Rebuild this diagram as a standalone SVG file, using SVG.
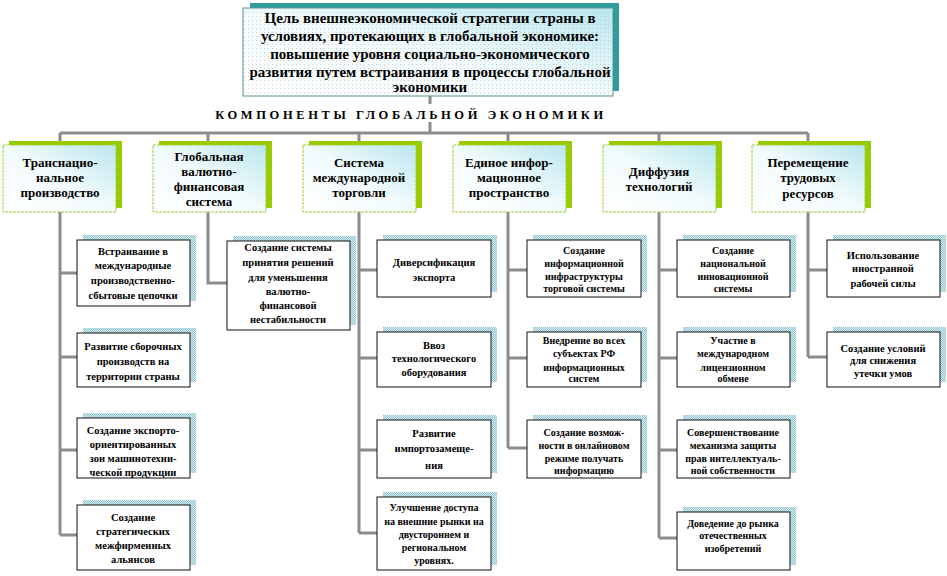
<svg xmlns="http://www.w3.org/2000/svg" width="947" height="576" viewBox="0 0 947 576">
<defs>
<linearGradient id="gHead" x1="0" y1="1" x2="1" y2="0">
<stop offset="0" stop-color="#ffffff"/>
<stop offset="0.5" stop-color="#f2fbfc"/>
<stop offset="1" stop-color="#b9e6ee"/>
</linearGradient>
<pattern id="dots" width="4" height="4" patternUnits="userSpaceOnUse">
<rect x="0" y="0" width="1" height="1" fill="#b0b8c0"/>
</pattern>
<pattern id="shBlue" width="2" height="2" patternUnits="userSpaceOnUse">
<rect width="2" height="2" fill="#d8eef2"/>
<rect width="1" height="1" fill="#8ec3d0"/>
<rect x="1" y="1" width="1" height="1" fill="#8ec3d0"/>
</pattern>
</defs>
<style>
text{font-family:'Liberation Serif','DejaVu Serif',serif;font-weight:bold;fill:#000;text-anchor:middle}
.tt{font-size:15px}
.hd{font-size:13px}
.sb{font-size:10.5px}
.sbs{font-size:10px}
.comp{font-size:12.5px;letter-spacing:3.6px}
.conn{stroke:#8c8c8c;stroke-width:3;fill:none}
.hbox{fill:url(#gHead);stroke:#9ccc33;stroke-width:1;stroke-dasharray:3 1}
.hsh{fill:#99cc00}
.sbox{fill:#ffffff;stroke:#111;stroke-width:1}
.ssh{fill:url(#shBlue)}
</style>
<rect width="947" height="576" fill="#ffffff"/>

<g id="connectors">
<path class="conn" d="M430 96V104M430 122V133M60 133H808"/>
<path class="conn" d="M60 133V145M208 133V145M359 133V145M508 133V145M659 133V145M808 133V145"/>
<path class="conn" d="M60 212V535M60 273H77M60 357H77M60 450H77M60 535H77"/>
<path class="conn" d="M208 212V283H227"/>
<path class="conn" d="M359 212V533M359 270H377M359 358H377M359 450H377M359 533H377"/>
<path class="conn" d="M508 212V448M508 270H527M508 358H527M508 448H527"/>
<path class="conn" d="M659 212V538M659 270H677M659 358H677M659 450H677M659 538H677"/>
<path class="conn" d="M808 212V357M808 270H827M808 357H827"/>
</g>

<g font-family="Liberation Serif, DejaVu Serif, serif" font-weight="bold" text-anchor="middle">
<g id="title">
<rect x="250" y="3" width="369" height="88" fill="#2f9b9b"/>
<rect x="243" y="8" width="370" height="88" fill="url(#gHead)" stroke="#5a8f8f" stroke-width="1"/>
<rect x="243" y="8" width="370" height="88" fill="url(#dots)" opacity="0.6"/>
<text class="tt" x="430" y="23">Цель внешнеэкономической стратегии страны в</text>
<text class="tt" x="430" y="41">условиях, протекающих в глобальной экономике:</text>
<text class="tt" x="430" y="59">повышение уровня социально-экономического</text>
<text class="tt" x="430" y="77">развития путем встраивания в процессы глобальной</text>
<text class="tt" x="430" y="92">экономики</text>
</g>

<g id="components-label">
<text class="comp" x="411" y="119">КОМПОНЕНТЫ ГЛОБАЛЬНОЙ ЭКОНОМИКИ</text>
</g>

<g id="h1">
<rect class="hsh" x="9" y="141" width="113" height="67"/>
<rect class="hbox" x="3" y="145" width="113" height="67"/>
<text class="hd" x="60" y="167">Транснацио-</text>
<text class="hd" x="60" y="182">нальное</text>
<text class="hd" x="60" y="197">производство</text>
</g>
<g id="h2">
<rect class="hsh" x="159" y="141" width="113" height="67"/>
<rect class="hbox" x="153" y="145" width="113" height="67"/>
<text class="hd" x="209" y="161">Глобальная</text>
<text class="hd" x="209" y="176">валютно-</text>
<text class="hd" x="209" y="191">финансовая</text>
<text class="hd" x="209" y="206">система</text>
</g>
<g id="h3">
<rect class="hsh" x="309" y="141" width="113" height="67"/>
<rect class="hbox" x="303" y="145" width="113" height="67"/>
<text class="hd" x="359" y="167">Система</text>
<text class="hd" x="359" y="182">международной</text>
<text class="hd" x="359" y="197">торговли</text>
</g>
<g id="h4">
<rect class="hsh" x="459" y="141" width="113" height="67"/>
<rect class="hbox" x="453" y="145" width="113" height="67"/>
<text class="hd" x="509" y="167">Единое инфор-</text>
<text class="hd" x="509" y="182">мационное</text>
<text class="hd" x="509" y="197">пространство</text>
</g>
<g id="h5">
<rect class="hsh" x="609" y="141" width="113" height="67"/>
<rect class="hbox" x="603" y="145" width="113" height="67"/>
<text class="hd" x="659" y="176">Диффузия</text>
<text class="hd" x="659" y="191">технологий</text>
</g>
<g id="h6">
<rect class="hsh" x="758" y="141" width="113" height="67"/>
<rect class="hbox" x="752" y="145" width="113" height="67"/>
<text class="hd" x="808" y="167">Перемещение</text>
<text class="hd" x="808" y="182">трудовых</text>
<text class="hd" x="808" y="198">ресурсов</text>
</g>

<g id="c1b1">
<rect class="ssh" x="83" y="235" width="113" height="66"/>
<rect class="sbox" x="77" y="240" width="113" height="66"/>
<text class="sb" x="133" y="255">Встраивание в</text>
<text class="sb" x="133" y="269">международные</text>
<text class="sb" x="133" y="284">производственно-</text>
<text class="sb" x="133" y="299">сбытовые цепочки</text>
</g>
<g id="c1b2">
<rect class="ssh" x="83" y="328" width="113" height="54"/>
<rect class="sbox" x="77" y="333" width="113" height="54"/>
<text class="sb" x="133" y="350">Развитие сборочных</text>
<text class="sb" x="133" y="365">производств на</text>
<text class="sb" x="133" y="380">территории страны</text>
</g>
<g id="c1b3">
<rect class="ssh" x="83" y="413" width="113" height="60"/>
<rect class="sbox" x="77" y="418" width="113" height="60"/>
<text class="sb" x="133" y="434">Создание экспорто-</text>
<text class="sb" x="133" y="448">ориентированных</text>
<text class="sb" x="133" y="462">зон машинотехни-</text>
<text class="sb" x="133" y="476">ческой продукции</text>
</g>
<g id="c1b4">
<rect class="ssh" x="83" y="500" width="113" height="65"/>
<rect class="sbox" x="77" y="505" width="113" height="65"/>
<text class="sb" x="133" y="521">Создание</text>
<text class="sb" x="133" y="535">стратегических</text>
<text class="sb" x="133" y="549">межфирменных</text>
<text class="sb" x="133" y="563">альянсов</text>
</g>

<g id="c2b1">
<rect class="ssh" x="233" y="236" width="123" height="89"/>
<rect class="sbox" x="227" y="241" width="123" height="89"/>
<text class="sb" x="288" y="251">Создание системы</text>
<text class="sb" x="288" y="266">принятия решений</text>
<text class="sb" x="288" y="281">для уменьшения</text>
<text class="sb" x="288" y="295">валютно-</text>
<text class="sb" x="288" y="309">финансовой</text>
<text class="sb" x="288" y="323">нестабильности</text>
</g>

<g id="c3b1">
<rect class="ssh" x="383" y="235" width="114" height="57"/>
<rect class="sbox" x="377" y="240" width="114" height="57"/>
<text class="sb" x="434" y="266">Диверсификация</text>
<text class="sb" x="434" y="281">экспорта</text>
</g>
<g id="c3b2">
<rect class="ssh" x="383" y="327" width="114" height="55"/>
<rect class="sbox" x="377" y="332" width="114" height="55"/>
<text class="sb" x="434" y="349">Ввоз</text>
<text class="sb" x="434" y="362">технологического</text>
<text class="sb" x="434" y="376">оборудования</text>
</g>
<g id="c3b3">
<rect class="ssh" x="383" y="415" width="114" height="58"/>
<rect class="sbox" x="377" y="420" width="114" height="58"/>
<text class="sb" x="434" y="437">Развитие</text>
<text class="sb" x="434" y="452">импортозамеще-</text>
<text class="sb" x="434" y="469">ния</text>
</g>
<g id="c3b4">
<rect class="ssh" x="383" y="492" width="114" height="73"/>
<rect class="sbox" x="377" y="497" width="114" height="73"/>
<text class="sbs" x="434" y="511">Улучшение доступа</text>
<text class="sbs" x="434" y="525">на внешние рынки на</text>
<text class="sbs" x="434" y="538">двустороннем и</text>
<text class="sbs" x="434" y="551">региональном</text>
<text class="sbs" x="434" y="564">уровнях.</text>
</g>

<g id="c4b1">
<rect class="ssh" x="533" y="235" width="114" height="57"/>
<rect class="sbox" x="527" y="240" width="114" height="57"/>
<text class="sbs" x="584" y="254">Создание</text>
<text class="sbs" x="584" y="267">информационной</text>
<text class="sbs" x="584" y="280">инфраструктуры</text>
<text class="sbs" x="584" y="292">торговой системы</text>
</g>
<g id="c4b2">
<rect class="ssh" x="533" y="327" width="114" height="55"/>
<rect class="sbox" x="527" y="332" width="114" height="55"/>
<text class="sbs" x="584" y="344">Внедрение во всех</text>
<text class="sbs" x="584" y="357">субъектах РФ</text>
<text class="sbs" x="584" y="371">информационных</text>
<text class="sbs" x="584" y="382">систем</text>
</g>
<g id="c4b3">
<rect class="ssh" x="533" y="415" width="114" height="58"/>
<rect class="sbox" x="527" y="420" width="114" height="58"/>
<text class="sbs" x="584" y="436">Создание возмож-</text>
<text class="sbs" x="584" y="449">ности в онлайновом</text>
<text class="sbs" x="584" y="462">режиме получать</text>
<text class="sbs" x="584" y="474">информацию</text>
</g>

<g id="c5b1">
<rect class="ssh" x="683" y="235" width="113" height="57"/>
<rect class="sbox" x="677" y="240" width="113" height="57"/>
<text class="sbs" x="733" y="254">Создание</text>
<text class="sbs" x="733" y="267">национальной</text>
<text class="sbs" x="733" y="280">инновационной</text>
<text class="sbs" x="733" y="292">системы</text>
</g>
<g id="c5b2">
<rect class="ssh" x="683" y="327" width="113" height="55"/>
<rect class="sbox" x="677" y="332" width="113" height="55"/>
<text class="sbs" x="733" y="344">Участие в</text>
<text class="sbs" x="733" y="357">международном</text>
<text class="sbs" x="733" y="371">лицензионном</text>
<text class="sbs" x="733" y="382">обмене</text>
</g>
<g id="c5b3">
<rect class="ssh" x="683" y="415" width="113" height="58"/>
<rect class="sbox" x="677" y="420" width="113" height="58"/>
<text class="sbs" x="733" y="436">Совершенствование</text>
<text class="sbs" x="733" y="449">механизма защиты</text>
<text class="sbs" x="733" y="462">прав интеллектуаль-</text>
<text class="sbs" x="733" y="474">ной собственности</text>
</g>
<g id="c5b4">
<rect class="ssh" x="683" y="507" width="113" height="58"/>
<rect class="sbox" x="677" y="512" width="113" height="58"/>
<text class="sbs" x="733" y="527">Доведение до рынка</text>
<text class="sbs" x="733" y="539">отечественных</text>
<text class="sbs" x="733" y="552">изобретений</text>
</g>

<g id="c6b1">
<rect class="ssh" x="833" y="235" width="113" height="57"/>
<rect class="sbox" x="827" y="240" width="113" height="57"/>
<text class="sb" x="883" y="259">Использование</text>
<text class="sb" x="883" y="272">иностранной</text>
<text class="sb" x="883" y="287">рабочей силы</text>
</g>
<g id="c6b2">
<rect class="ssh" x="833" y="327" width="113" height="55"/>
<rect class="sbox" x="827" y="332" width="113" height="55"/>
<text class="sb" x="883" y="352">Создание условий</text>
<text class="sb" x="883" y="364">для снижения</text>
<text class="sb" x="883" y="377">утечки умов</text>
</g>
</g>
</svg>
